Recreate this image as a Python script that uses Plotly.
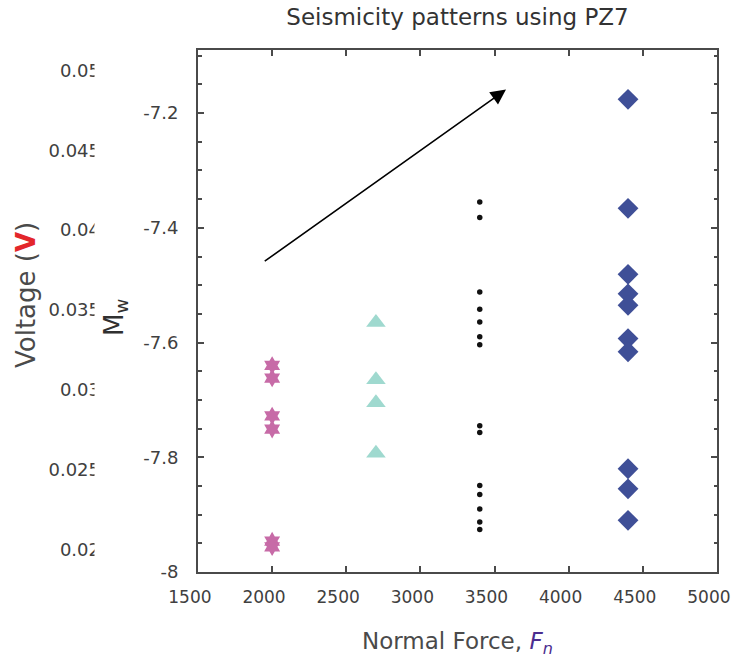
import plotly.graph_objects as go

# ---- data ----
pz_force = [2000] * 6
pz_mw = [-7.640, -7.662, -7.728, -7.751, -7.946, -7.956]

tri_force = [2700] * 4
tri_mw = [-7.565, -7.665, -7.705, -7.793]

dot_force = [3400] * 14
dot_mw = [-7.355, -7.382, -7.512, -7.542, -7.564, -7.590, -7.604,
          -7.745, -7.757, -7.849, -7.865, -7.890, -7.913, -7.926]

dia_force = [4400] * 10
dia_mw = [-7.176, -7.366, -7.481, -7.515, -7.535, -7.593, -7.616,
          -7.820, -7.855, -7.910]

x_ticks = [1500, 2000, 2500, 3000, 3500, 4000, 4500, 5000]
x_ticktext = ["1500", "2000", "2500", "3000", "3500", "4000", "4500", "5000"]
y_ticks = [-8, -7.8, -7.6, -7.4, -7.2]
y_ticktext = ["-8", "-7.8", "-7.6", "-7.4", "-7.2"]
volt_ticks = [0.02, 0.025, 0.03, 0.035, 0.04, 0.045, 0.05]
volt_ticktext = ["0.02", "0.025", "0.03", "0.035", "0.04", "0.045", "0.05"]

arrow_start = (1940, -7.460)
arrow_end = (3577, -7.159)

FONT = "DejaVu Sans"
TXT = "#404040"
W, H = 732, 660
ML, MR, MT, MB = 15, 15, 50, 88
PW = W - ML - MR
PLOT_L = 198
PLOT_R = 717
NB = "\u00a0" * 3  # labels sit slightly left of their ticks in the reference


def px_x(px):
    return (px - ML) / PW


fig = go.Figure()
fig.add_trace(go.Scatter(x=pz_force, y=pz_mw, mode="markers",
                         marker=dict(symbol="hexagram", size=14, color="#c76ba7"),
                         showlegend=False))
fig.add_trace(go.Scatter(x=tri_force, y=tri_mw, mode="markers",
                         marker=dict(symbol="triangle-up", size=17, color="#9fd9cf"),
                         showlegend=False))
fig.add_trace(go.Scatter(x=dot_force, y=dot_mw, mode="markers",
                         marker=dict(symbol="circle", size=5.5, color="#111111"),
                         showlegend=False))
fig.add_trace(go.Scatter(x=dia_force, y=dia_mw, mode="markers",
                         marker=dict(symbol="diamond", size=16, color="#3f4f97"),
                         showlegend=False))
# invisible trace on voltage axis
fig.add_trace(go.Scatter(x=[None], y=[None], yaxis="y2", showlegend=False))

fig.add_annotation(x=arrow_end[0], y=arrow_end[1], ax=arrow_start[0], ay=arrow_start[1],
                   xref="x", yref="y", axref="x", ayref="y", text="", showarrow=True,
                   arrowhead=2, arrowsize=1.9, arrowwidth=1.6, arrowcolor="#000000")

axis_common = dict(showline=True, linecolor="#4a4a4a", linewidth=2, mirror="ticks",
                   ticks="inside", tickcolor="#4a4a4a", tickwidth=1.5, ticklen=6,
                   showgrid=False, zeroline=False, automargin=False)

fig.update_layout(
    width=W, height=H,
    margin=dict(l=ML, r=MR, t=MT, b=MB, autoexpand=False),
    paper_bgcolor="white", plot_bgcolor="white",
    font=dict(family=FONT, color=TXT),
    title=dict(text="Seismicity patterns using PZ7", x=(PLOT_L + PLOT_R) / 2 / W, xanchor="center",
               y=1 - 17 / H, yanchor="middle", font=dict(family=FONT, size=23, color="#333333")),
    xaxis=dict(range=[1500, 5000], tickvals=x_ticks, ticktext=[t + NB for t in x_ticktext],
               domain=[px_x(PLOT_L), px_x(PLOT_R)],
               ticklabelstandoff=9, ticklabeloverflow="allow",
               tickfont=dict(family=FONT, size=17, color=TXT), **axis_common),
    yaxis=dict(range=[-8, -7.09], tickvals=y_ticks, ticktext=y_ticktext,
               minor=dict(dtick=0.05, ticks="inside", ticklen=3.5, tickcolor="#4a4a4a", tickwidth=1.5),
               ticklabelstandoff=14, ticklabeloverflow="allow",
               tickfont=dict(family=FONT, size=18, color=TXT), **axis_common),
    yaxis2=dict(range=[0.01859, 0.05128], tickvals=volt_ticks, ticktext=volt_ticktext,
                overlaying="y", anchor="free", side="left", position=px_x(100),
                showline=False, ticks="", showgrid=False, zeroline=False,
                ticklabeloverflow="allow", automargin=False,
                tickfont=dict(family=FONT, size=18, color=TXT)),
)

# mask clipping the voltage tick labels
fig.add_shape(type="rect", xref="paper", yref="paper",
              x0=px_x(94.5), x1=px_x(101), y0=-0.05, y1=1.05,
              fillcolor="white", line=dict(width=0), layer="above")

ph = H - MT - MB
# M_w label
fig.add_annotation(text="M<sub>w</sub>", xref="paper", yref="paper",
                   x=px_x(115), y=(H - MB - 318) / ph, showarrow=False,
                   textangle=-90, font=dict(family=FONT, size=26, color="#303030"),
                   xanchor="center", yanchor="middle")
# Voltage label
fig.add_annotation(text="Voltage (<b><span style='color:#e3262b'>V</span></b>)",
                   xref="paper", yref="paper",
                   x=px_x(26), y=(H - MB - 295) / ph, showarrow=False,
                   textangle=-90, font=dict(family=FONT, size=26, color="#4a4a4a"),
                   xanchor="center", yanchor="middle")
# x label
fig.add_annotation(text="Normal Force, <i><span style='color:#4b2d8f'>F</span></i><sub><i><span style='color:#4b2d8f'>n</span></i></sub>",
                   xref="paper", yref="paper",
                   x=px_x((PLOT_L + PLOT_R) / 2), y=-(643 - (H - MB)) / ph, showarrow=False,
                   font=dict(family=FONT, size=23, color="#4a4a4a"),
                   xanchor="center", yanchor="middle")

fig.write_html("out.html")
